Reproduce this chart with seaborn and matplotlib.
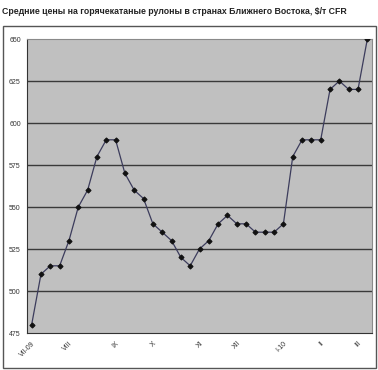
import matplotlib
matplotlib.use("Agg")
import matplotlib.pyplot as plt
from matplotlib.patches import Rectangle
import numpy as np
import pandas as pd
import seaborn as sns

# Weekly prices, $/t CFR
prices = [480, 510, 515, 515, 530, 550, 560, 580, 590, 590, 570, 560, 555,
          540, 535, 530, 520, 515, 525, 530, 540, 545, 540, 540, 535, 535,
          535, 540, 580, 590, 590, 590, 620, 625, 620, 620, 650]

# Month labels and number of weekly points per month
months = ["VII-09", "VIII", "IX", "X", "XI", "XII", "I-10", "II", "III"]
weeks_in_month = [4, 5, 4, 5, 4, 5, 4, 4, 2]

y_ticks = [475, 500, 525, 550, 575, 600, 625, 650]

title = "Средние цены на горячекатаные рулоны в странах Ближнего Востока, $/т CFR"

df = pd.DataFrame({"week": np.arange(len(prices)), "price": prices})
label_pos = np.concatenate([[0], np.cumsum(weeks_in_month)[:-1]])

sns.set_style("white", {"axes.facecolor": "#c0c0c0"})
plt.rcParams["font.family"] = ["Liberation Sans", "DejaVu Sans"]

fig = plt.figure(figsize=(3.78, 3.70), dpi=100)
ax = fig.add_axes([27 / 378, 1 - 333 / 370, 345 / 378, 294 / 370])

# Chart area frame
fig.patches.append(Rectangle((3 / 378, 1 - 368 / 370), 373 / 378, 342 / 370,
                             transform=fig.transFigure, fill=False,
                             edgecolor="#555555", linewidth=1))

fig.text(2 / 378, 1 - 12 / 370, title, fontsize=6.3, fontweight="bold",
         color="#222222", ha="left", va="center")

for y in y_ticks[1:-1]:
    ax.axhline(y, color="#3a3a3a", linewidth=1, zorder=1)

sns.lineplot(data=df, x="week", y="price", ax=ax, color="#3c3c5c",
             linewidth=0.9, marker="D", markersize=2.6,
             markerfacecolor="#111111", markeredgecolor="#111111", zorder=3)

ax.set_xlim(-0.5, len(prices) - 0.5)
ax.set_ylim(475, 650)
ax.set_yticks(y_ticks)
ax.set_yticklabels([str(v) for v in y_ticks], fontsize=5, color="#333333")

ax.set_xticks(label_pos)
ax.set_xticklabels(months, rotation=45, ha="right", rotation_mode="anchor",
                   fontsize=5, color="#333333")
ax.set_xticks(np.arange(-0.5, len(prices), 1), minor=True)
ax.tick_params(axis="x", which="major", length=0, pad=5)
ax.tick_params(axis="x", which="minor", length=2, width=0.6, color="#333333")
ax.tick_params(axis="y", length=3, width=0.6, color="#333333", pad=1.5)

ax.set_xlabel("")
ax.set_ylabel("")

for side in ["left", "bottom"]:
    ax.spines[side].set_color("#333333")
    ax.spines[side].set_linewidth(0.8)
for side in ["top", "right"]:
    ax.spines[side].set_visible(True)
    ax.spines[side].set_color("#8a8a8a")
    ax.spines[side].set_linewidth(0.8)

fig.savefig("out.png", dpi=100)
